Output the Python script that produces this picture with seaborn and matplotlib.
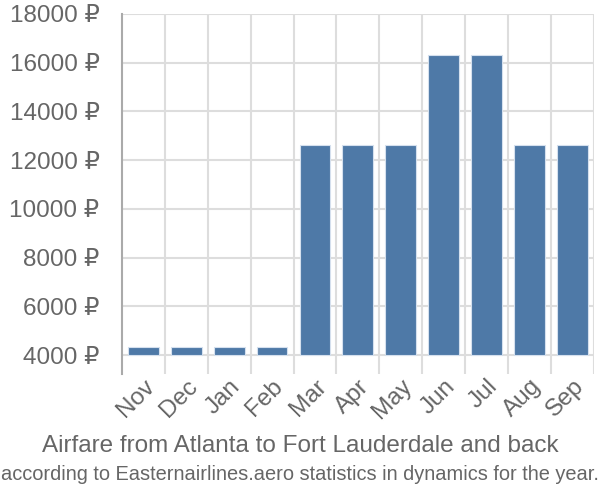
import numpy as np
import pandas as pd
import matplotlib
matplotlib.use('Agg')
import matplotlib.pyplot as plt
import seaborn as sns

# data
months = ['Nov', 'Dec', 'Jan', 'Feb', 'Mar', 'Apr', 'May', 'Jun', 'Jul', 'Aug', 'Sep']
fares = [4330, 4330, 4330, 4330, 12610, 12610, 12610, 16310, 16310, 12610, 12610]
yticks = [4000, 6000, 8000, 10000, 12000, 14000, 16000, 18000]
base = 4000

title_main = 'Airfare from Atlanta to Fort Lauderdale and back'
title_sub = 'according to Easternairlines.aero statistics in dynamics for the year.'

sns.set_style('white')
plt.rcParams['font.family'] = ['Liberation Sans', 'DejaVu Sans']

text_color = '#666666'
grid_color = '#dddddd'
bar_color = '#4e79a7'

df = pd.DataFrame({'month': months, 'fare': fares})
df['above'] = df['fare'] - base

fig = plt.figure(figsize=(6, 5), dpi=100)
ax = fig.add_axes([0.203, 0.252, 0.787, 0.72])

sns.barplot(data=df, x='month', y='above', order=months, color=bar_color,
            saturation=1, width=0.72, errorbar=None, bottom=base,
            edgecolor='#d5e0ee', linewidth=0.8, ax=ax, zorder=3)

ax.set_xlim(-0.5, len(months) - 0.5)
ax.set_ylim(3220, 18000)

ax.set_yticks(yticks)
ax.set_yticklabels([f'{v} ₽' for v in yticks])
ax.set_xticks(range(len(months)))
ax.set_xticklabels(months, rotation=45, ha='right', rotation_mode='anchor')

ax.grid(False)
for v in yticks:
    ax.axhline(v, color=grid_color, lw=1.5, zorder=1)
for xb in np.arange(0.5, len(months)):
    ax.axvline(xb, color=grid_color, lw=1.5, zorder=1)

ax.tick_params(axis='y', length=14, width=1.5, color=grid_color, pad=2,
               labelsize=17.5, labelcolor=text_color)
ax.tick_params(axis='x', length=0, pad=1,
               labelsize=17.5, labelcolor=text_color)

for side in ['top', 'right', 'bottom']:
    ax.spines[side].set_visible(False)
ax.spines['left'].set_color('#aaaaaa')
ax.spines['left'].set_linewidth(1.5)

ax.set_xlabel('')
ax.set_ylabel('')

fig.text(0.5, 0.108, title_main, ha='center', va='center', fontsize=17.5, color=text_color)
fig.text(0.5, 0.05, title_sub, ha='center', va='center', fontsize=14.4, color=text_color)

fig.savefig('out.png', dpi=100)
